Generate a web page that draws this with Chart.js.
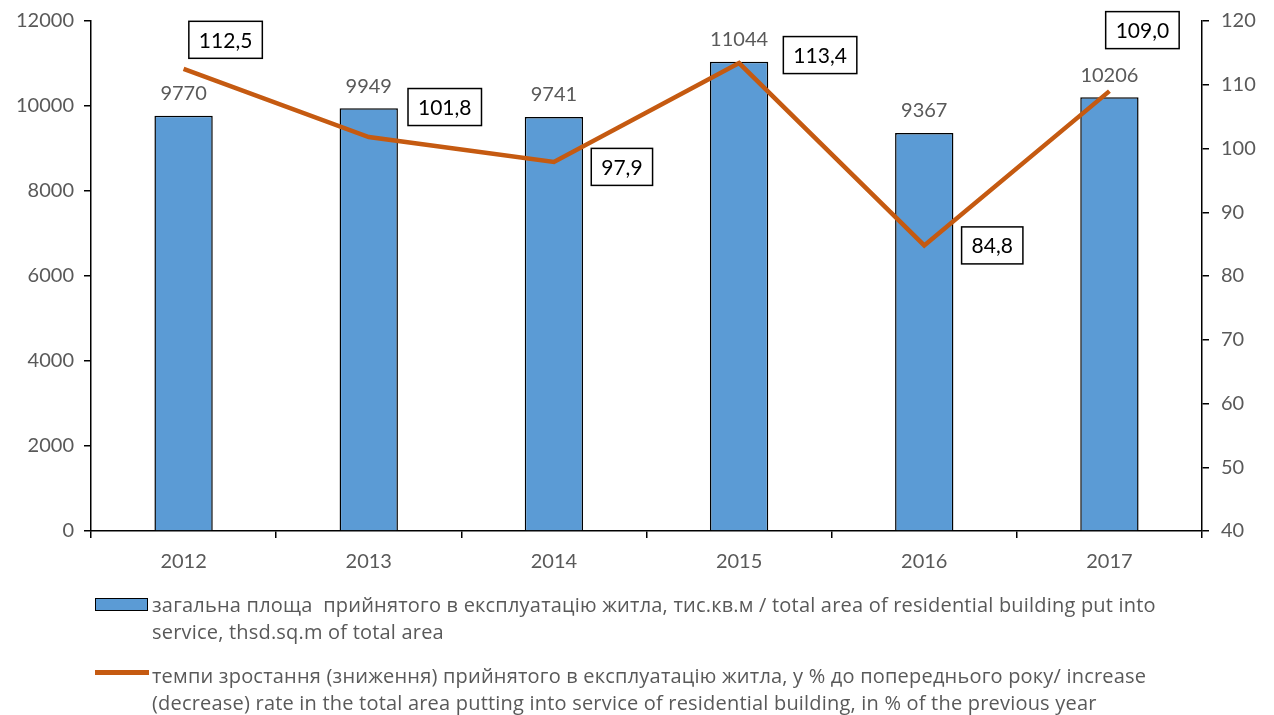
<!DOCTYPE html>
<html>
<head>
<meta charset="utf-8">
<script src="https://cdn.jsdelivr.net/npm/chart.js@4.4.1/dist/chart.umd.min.js"></script>
<style>
  html, body { margin: 0; padding: 0; background: #fff; }
  #wrap { position: relative; width: 1274px; height: 715px; overflow: hidden; }
  #c { position: absolute; left: 0; top: 0; }
  .leg { position: absolute; left: 152px; font-family: "Open Sans", Lato, sans-serif; font-size: 20px; letter-spacing: 0.2px; color: #595959; line-height: 27px; white-space: nowrap; }
  .sw { position: absolute; }
</style>
</head>
<body>
<div id="wrap">
  <canvas id="c" width="1274" height="715"></canvas>
  <div class="sw" style="left:95px;top:598px;width:51px;height:11px;background:#5b9bd5;border:1.5px solid #000;"></div>
  <div class="leg" style="top:591px;">загальна площа&nbsp; прийнятого в експлуатацію житла, тис.кв.м / total area of residential building put into<br>service, thsd.sq.m of total area</div>
  <div class="sw" style="left:95px;top:670px;width:54px;height:5px;background:#c55a11;"></div>
  <div class="leg" style="top:662px;">темпи зростання (зниження) прийнятого в експлуатацію житла, у % до попереднього року/ increase<br>(decrease) rate in the total area putting into service of residential building, in % of the previous year</div>
</div>
<script>
const years = ['2012', '2013', '2014', '2015', '2016', '2017'];
const areaValues = [9770, 9949, 9741, 11044, 9367, 10206];
const rateValues = [112.5, 101.8, 97.9, 113.4, 84.8, 109.0];
const rateLabels = ['112,5', '101,8', '97,9', '113,4', '84,8', '109,0'];
const leftTicks = [0, 2000, 4000, 6000, 8000, 10000, 12000];
const rightTicks = [40, 50, 60, 70, 80, 90, 100, 110, 120];

const FONT = 'Lato, "Open Sans", sans-serif';
const GRAY = '#595959';
// label box offsets (styling) relative to line points
const boxOffsets = [[42, -29], [76, -30], [68, 5], [81, -8], [68, 0], [33, -61]];

const labelPlugin = {
  id: 'labels',
  afterDatasetsDraw(chart) {
    const ctx = chart.ctx;
    ctx.save();
    ctx.textAlign = 'center';
    ctx.textBaseline = 'middle';
    ctx.font = '20px ' + FONT;
    const barMeta = chart.getDatasetMeta(0);
    barMeta.data.forEach((el, i) => {
      ctx.fillStyle = GRAY;
      ctx.fillText(String(areaValues[i]), el.x, el.y - 22);
    });
    ctx.font = '21px ' + FONT;
    const lineMeta = chart.getDatasetMeta(1);
    lineMeta.data.forEach((el, i) => {
      const cx = el.x + boxOffsets[i][0];
      const cy = el.y + boxOffsets[i][1];
      const txt = rateLabels[i];
      const w = ctx.measureText(txt).width + 20;
      const h = 37;
      ctx.fillStyle = '#fff';
      ctx.fillRect(cx - w / 2, cy - h / 2, w, h);
      ctx.strokeStyle = '#000';
      ctx.lineWidth = 1.5;
      ctx.strokeRect(cx - w / 2, cy - h / 2, w, h);
      ctx.fillStyle = '#000';
      ctx.fillText(txt, cx, cy + 1);
    });
    ctx.restore();
  }
};

new Chart(document.getElementById('c'), {
  data: {
    labels: years,
    datasets: [
      {
        type: 'bar',
        data: areaValues,
        yAxisID: 'y',
        backgroundColor: '#5b9bd5',
        borderColor: '#000',
        borderWidth: 1.5,
        categoryPercentage: 1,
        barPercentage: 0.315,
        order: 2
      },
      {
        type: 'line',
        data: rateValues,
        yAxisID: 'y1',
        borderColor: '#c55a11',
        borderWidth: 4.5,
        pointRadius: 0,
        tension: 0,
        order: 1
      }
    ]
  },
  options: {
    responsive: false,
    animation: false,
    layout: { padding: { top: 21, bottom: 134, left: 0, right: 0 } },
    plugins: { legend: { display: false }, tooltip: { enabled: false } },
    scales: {
      x: {
        offset: true,
        grid: { display: true, drawOnChartArea: false, drawTicks: true, tickLength: 7, color: '#000', lineWidth: 1.5, offset: true },
        border: { display: true, color: '#000', width: 1.5 },
        ticks: { color: GRAY, font: { family: FONT, size: 20 }, padding: 12 },
        afterFit(s) { s.height = 50; s.paddingLeft = 0; s.paddingRight = 0; }
      },
      y: {
        position: 'left',
        min: 0, max: 12000,
        afterBuildTicks(s) { s.ticks = leftTicks.map(v => ({ value: v })); },
        grid: { display: true, drawOnChartArea: false, drawTicks: true, tickLength: 7, color: '#000', lineWidth: 1.5 },
        border: { display: true, color: '#000', width: 1.5 },
        ticks: { color: GRAY, font: { family: FONT, size: 20 }, padding: 10, callback: v => String(v) },
        afterFit(s) { s.width = 91; s.paddingTop = 0; s.paddingBottom = 0; }
      },
      y1: {
        position: 'right',
        min: 40, max: 120,
        afterBuildTicks(s) { s.ticks = rightTicks.map(v => ({ value: v })); },
        grid: { display: true, drawOnChartArea: false, drawTicks: true, tickLength: 7, color: '#000', lineWidth: 1.5 },
        border: { display: true, color: '#000', width: 1.5 },
        ticks: { color: GRAY, font: { family: FONT, size: 20 }, padding: 12, callback: v => String(v) },
        afterFit(s) { s.width = 72; s.paddingTop = 0; s.paddingBottom = 0; }
      }
    }
  },
  plugins: [labelPlugin]
});
</script>
</body>
</html>
